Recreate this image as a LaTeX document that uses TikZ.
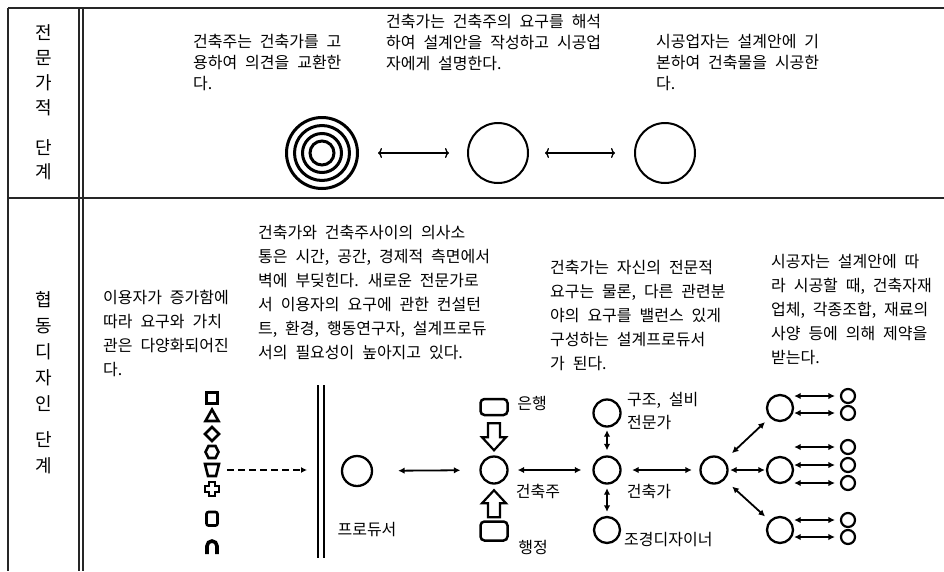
\documentclass[tikz,border=0pt]{standalone}
\usepackage{fontspec}
\setmainfont{Noto Sans CJK KR}[WordSpace=2.2]
\usetikzlibrary{arrows.meta}

\begin{document}
\begin{tikzpicture}[x=1pt,y=-1pt,
    rule/.style={line width=1.3pt, black!85},
    toptext/.style={anchor=north west, inner sep=0pt, align=left, font=\fontsize{16pt}{21pt}\selectfont},
    bodytext/.style={anchor=north west, inner sep=0pt, align=left, font=\fontsize{16pt}{24pt}\selectfont},
    tag/.style={inner sep=0pt, font=\fontsize{16pt}{23pt}\selectfont},
    stagechar/.style={inner sep=0pt, font=\fontsize{18pt}{20pt}\selectfont},
    bigring/.style={circle, draw, line width=2pt, minimum size=60pt, inner sep=0pt},
    ring/.style={circle, draw, line width=2.3pt, minimum size=27pt, inner sep=0pt},
    leaf/.style={circle, draw, line width=2.2pt, minimum size=14pt, inner sep=0pt},
    box/.style={draw, line width=2.5pt, rounded corners=4pt, minimum width=27pt, minimum height=16pt, inner sep=0pt},
    thinarrow/.style={line width=1.3pt, {To[length=4pt,width=10pt]}-{To[length=4pt,width=10pt]}},
    twoway/.style={line width=1.8pt, {Latex[length=6.5pt,width=6.5pt]}-{Latex[length=6.5pt,width=6.5pt]}},
    blockarrow/.style={draw, line width=2.2pt, line join=miter},
    figure/.style={line width=2.6pt}]

\useasboundingbox (0,0) rectangle (944,571);

% table rules
\draw[rule] (8,8) -- (944,8);
\draw[rule] (8,198) -- (944,198);
\draw[rule] (8,8) -- (8,571);
\draw[rule] (79,8) -- (79,571);
\draw[rule] (83,8) -- (83,571);

% stage names, one character per line
\foreach \ch/\y [count=\i] in {전/33, 문/58, 가/83, 적/108, 단/148, 계/172}
  \node[stagechar] (pro\i) at (44,\y) {\ch};
\foreach \ch/\y [count=\i] in {협/300, 동/326, 디/352, 자/378, 인/404, 단/440, 계/466}
  \node[stagechar] (co\i) at (44,\y) {\ch};

% upper stage: texts
\node[toptext] (ownertext) at (193,34) {건축주는 건축가를 고\\용하여 의견을 교환한\\다.};
\node[toptext] (archtext) at (386,14) {건축가는 건축주의 요구를 해석\\하여 설계안을 작성하고 시공업\\자에게 설명한다.};
\node[toptext] (buildtext) at (656,34) {시공업자는 설계안에 기\\본하여 건축물을 시공한\\다.};

% upper stage: owner, architect, builder
\node[bigring, minimum size=71pt, line width=3pt] (owner) at (322,153) {};
\foreach \r in {27.5,19.5,12}
  \draw[line width=3pt] (owner.center) circle (\r);
\node[bigring] (designer) at (498,153) {};
\node[bigring] (builder) at (665,153) {};
\draw[thinarrow, shorten <=19pt, shorten >=18pt] (owner) -- (designer);
\draw[thinarrow, shorten <=16pt, shorten >=19pt] (designer) -- (builder);

% lower stage: texts
\node[bodytext] (usertext) at (103,290) {이용자가 증가함에\\따라 요구와 가치\\관은 다양화되어진\\다.};
\node[bodytext] (walltext) at (258,225) {건축가와 건축주사이의 의사소\\통은 시간, 공간, 경제적 측면에서\\벽에 부딪힌다. 새로운 전문가로\\서 이용자의 요구에 관한 컨설턴\\트, 환경, 행동연구자, 설계프로듀\\서의 필요성이 높아지고 있다.};
\node[bodytext] (balancetext) at (550,260) {건축가는 자신의 전문적\\요구는 물론, 다른 관련분\\야의 요구를 밸런스 있게\\구성하는 설계프로듀서\\가 된다.};
\node[bodytext] (limittext) at (771,254) {시공자는 설계안에 따\\라 시공할 때, 건축자재\\업체, 각종조합, 재료의\\사양 등에 의해 제약을\\받는다.};

% users of many kinds
\begin{scope}[figure]
  \draw (212,398) +(-5.5,-5.5) rectangle +(5.5,5.5);
  \draw (212,416) +(-6.5,5) -- +(6.5,5) -- +(0,-6.5) -- cycle;
  \draw (212,434) +(0,-7) -- +(7,0) -- +(0,7) -- +(-7,0) -- cycle;
  \draw (212,452) +(-6.5,0) -- +(-3.5,-6) -- +(3.5,-6) -- +(6.5,0) -- +(3.5,6) -- +(-3.5,6) -- cycle;
  \draw (212,470) +(-7,-6) -- +(7,-6) -- +(4,6) -- +(-4,6) -- cycle;
  \draw (212,489) +(-3,-7) -- +(3,-7) -- +(3,-3) -- +(7,-3) -- +(7,3) -- +(3,3) -- +(3,7)
    -- +(-3,7) -- +(-3,3) -- +(-7,3) -- +(-7,-3) -- +(-3,-3) -- cycle;
  \draw[rounded corners=2pt] (212,519) +(-5.5,-7) rectangle +(5.5,6.5);
  \draw[line width=3.6pt] (207,554) -- (207,546) arc (180:360:5) -- (217,554);
\end{scope}

% the wall
\draw[line width=1.5pt] (318,385) -- (318,558);
\draw[line width=1.5pt] (324,385) -- (324,558);
\coordinate (crowd) at (227,470);
\coordinate (wall) at (307,470);
\draw[line width=1.6pt, dash pattern=on 7pt off 4pt, -{Latex[length=6pt,width=6pt]}] (crowd) -- (wall);

% producer and owner
\node[ring, minimum size=30pt] (producer) at (357,471) {};
\node[tag] (producerlabel) at (367,530) {프로듀서};
\node[ring] (client) at (494,470) {};
\node[tag] (clientlabel) at (538,491) {건축주};
\node[box] (bank) at (494,407) {};
\node[tag] (banklabel) at (532,403) {은행};
\node[box, minimum height=19pt] (office) at (494,531) {};
\node[tag] (officelabel) at (533,547) {행정};
\draw[blockarrow] (bank.south) ++(-6,7) -- ++(12,0) -- ++(0,14) -- ++(6,0) -- ++(-12,13)
  -- ++(-12,-13) -- ++(6,0) -- cycle;
\draw[blockarrow] (office.north) ++(-6,-3) -- ++(12,0) -- ++(0,-14) -- ++(6,0) -- ++(-12,-13)
  -- ++(-12,13) -- ++(6,0) -- cycle;
\draw[twoway, shorten <=25pt, shorten >=19pt] (producer) -- (client);

% architect and specialists
\node[ring] (architect) at (607,470) {};
\node[tag] (architectlabel) at (649,491) {건축가};
\node[ring] (engineer) at (607,413) {};
\node[tag, anchor=north west, align=left] (engineerlabel) at (627,392) {구조, 설비\\전문가};
\node[ring, minimum size=26pt] (landscape) at (607,530) {};
\node[tag, anchor=west] (landscapelabel) at (624,540) {조경디자이너};
\draw[twoway, shorten <=9pt, shorten >=11pt] (client) -- (architect);
\draw[twoway, shorten <=2.5pt, shorten >=5pt] (engineer) -- (architect);
\draw[twoway, shorten <=3.5pt, shorten >=4pt] (architect) -- (landscape);

% builders and suppliers
\node[ring] (hub) at (714,470) {};
\node[ring, minimum size=26pt] (team1) at (780,408) {};
\node[ring, minimum size=26pt] (team2) at (780,470) {};
\node[ring, minimum size=26pt] (team3) at (780,530) {};
\draw[twoway, shorten <=10.5pt, shorten >=7.5pt] (architect) -- (hub);
\draw[twoway, shorten <=10pt, shorten >=6.5pt] (hub) -- (team1);
\draw[twoway, shorten <=1.5pt, shorten >=1pt] (hub) -- (team2);
\draw[twoway, shorten <=10pt, shorten >=6pt] (hub) -- (team3);
\foreach \t/\y [count=\i] in {1/396, 1/413, 2/447, 2/465, 2/483, 3/520, 3/537} {
  \node[leaf] (leaf\i) at (848,\y) {};
  \draw[twoway, shorten >=5pt] (team\t.east |- leaf\i) -- (leaf\i);
}
\end{tikzpicture}
\end{document}
